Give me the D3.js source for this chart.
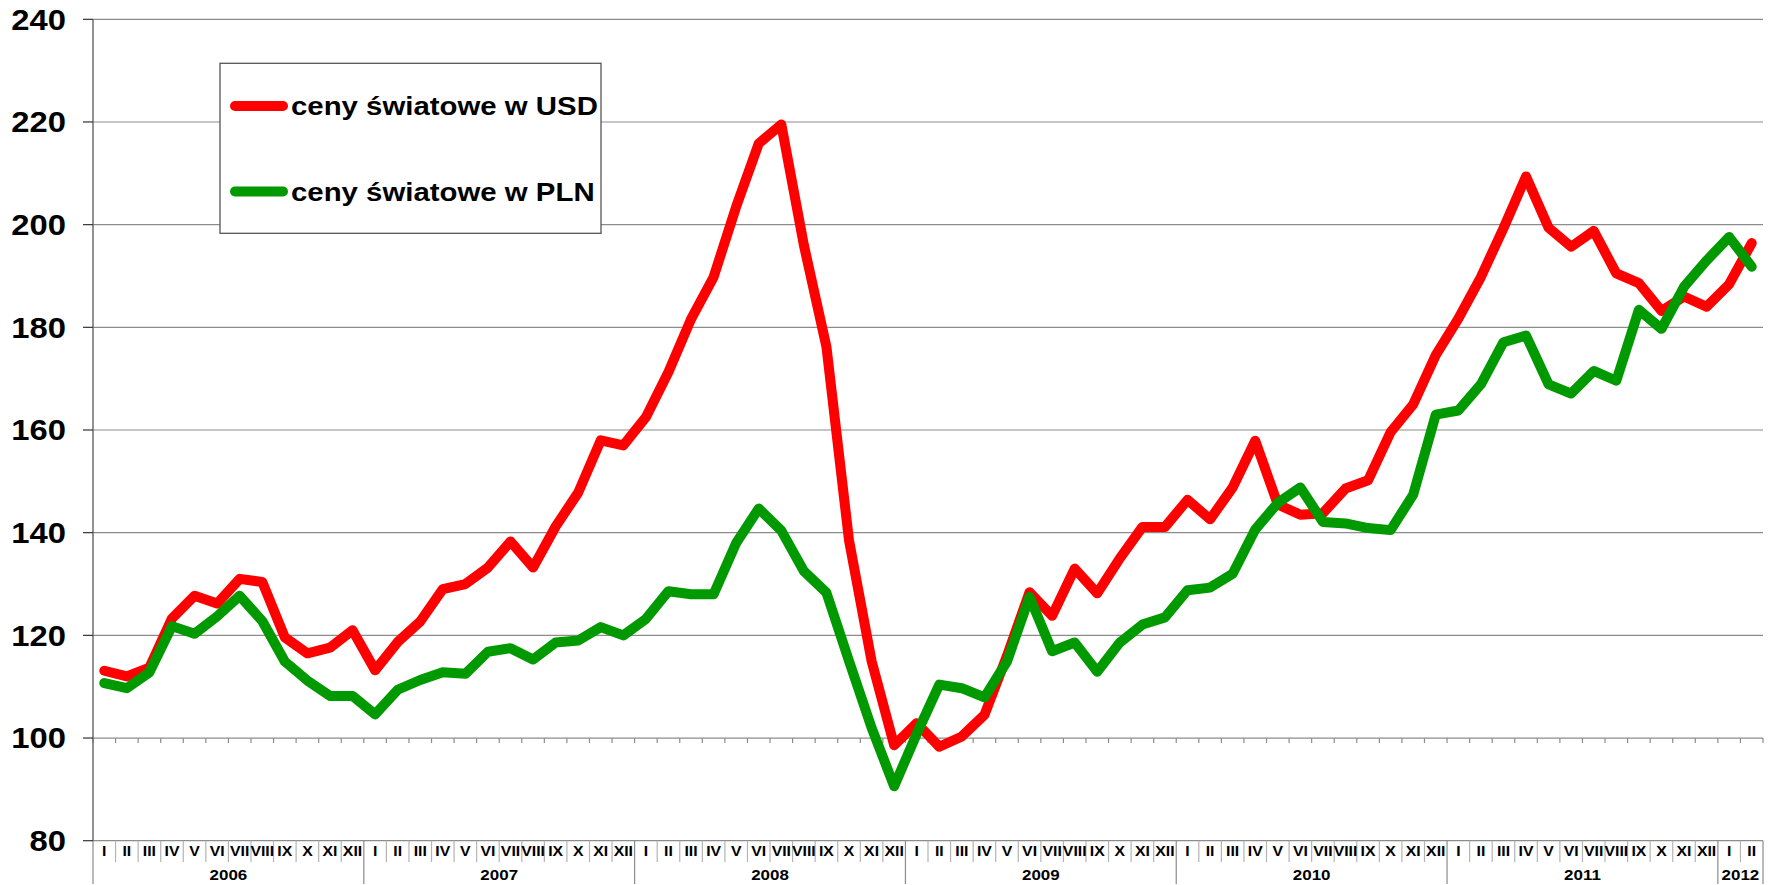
<!DOCTYPE html>
<html>
<head>
<meta charset="utf-8">
<script src="https://cdn.jsdelivr.net/npm/d3@7"></script>
<style>
  html, body { margin: 0; padding: 0; background: #fff; }
  svg { display: block; font-family: Arial, "Liberation Sans", sans-serif; }
</style>
</head>
<body>
<svg id="chart" width="1772" height="885"></svg>
<script>
const width = 1772;
const height = 885;

// month labels (roman) and years
const monthNames = ["I","II","III","IV","V","VI","VII","VIII","IX","X","XI","XII"];
const years = [2006, 2007, 2008, 2009, 2010, 2011, 2012];
const monthsInYear = [12, 12, 12, 12, 12, 12, 2];
const yTicks = [80, 100, 120, 140, 160, 180, 200, 220, 240];

// ceny światowe w USD
const usd = [
  113.1, 112.0, 113.7, 123.3, 127.7, 126.2, 131.0, 130.4, 119.6, 116.5, 117.6, 121.0,
  113.2, 118.7, 122.7, 129.0, 130.0, 133.2, 138.3, 133.2, 141.2, 147.8, 158.0, 157.0,
  162.5, 171.3, 181.6, 189.8, 203.5, 215.8, 219.5, 196.0, 176.2, 138.5, 115.0, 98.6,
  102.9, 98.3, 100.3, 104.5, 116.0, 128.4, 123.8, 133.0, 128.2, 135.0, 141.1, 141.1,
  146.4, 142.6, 148.8, 157.9, 145.5, 143.5, 143.8, 148.6, 150.2, 159.6, 165.0, 174.6,
  181.7, 189.8, 199.3, 209.4, 199.4, 195.7, 198.8, 190.5, 188.6, 183.2, 186.0, 184.0,
  188.4, 196.4
];

// ceny światowe w PLN
const pln = [
  110.7, 109.7, 112.8, 121.8, 120.3, 123.7, 127.7, 122.8, 114.9, 111.2, 108.2, 108.2,
  104.6, 109.4, 111.3, 112.8, 112.5, 116.8, 117.5, 115.3, 118.6, 119.0, 121.6, 120.0,
  123.2, 128.6, 128.0, 128.0, 138.0, 144.7, 140.4, 132.5, 128.3, 115.0, 102.0, 90.6,
  100.8, 110.4, 109.7, 107.9, 114.9, 127.5, 116.9, 118.6, 112.9, 118.6, 122.1, 123.5,
  128.8, 129.3, 132.0, 140.6, 145.8, 148.8, 142.1, 141.8, 140.9, 140.5, 147.4, 163.0,
  163.8, 168.9, 177.1, 178.4, 168.9, 167.1, 171.5, 169.6, 183.4, 179.7, 187.9, 193.0,
  197.6, 191.8
];

const seriesNames = ["ceny światowe w USD", "ceny światowe w PLN"];
const seriesColors = ["#ff0000", "#009900"];

// build month list
let months = [];
years.forEach((yr, yi) => {
  for (let m = 0; m < monthsInYear[yi]; m++) {
    months.push({ key: yr + "-" + m, label: monthNames[m], year: yr });
  }
});

const plotLeft = 93, plotRight = 1763, plotTop = 19.3, plotBottom = 840.7;
const stretch = 1.13; // original text is slightly wide

const x = d3.scaleBand()
  .domain(months.map(d => d.key))
  .range([plotLeft, plotRight])
  .padding(0);
const y = d3.scaleLinear().domain([80, 240]).range([plotBottom, plotTop]);
const cx = i => x(months[i].key) + x.bandwidth() / 2;
const edge = i => plotLeft + i * x.bandwidth();

const svg = d3.select("#chart");

function stretchedText(g, tx, ty, txt, size, anchor) {
  return g.append("text")
    .attr("transform", `translate(${tx},${ty}) scale(${stretch},1)`)
    .attr("text-anchor", anchor)
    .attr("font-size", size)
    .attr("font-weight", "bold")
    .attr("fill", "#000")
    .text(txt);
}

// gridlines
svg.append("g")
  .selectAll("line")
  .data(yTicks.filter(v => v > 80))
  .enter()
  .append("line")
  .attr("x1", plotLeft).attr("x2", plotRight)
  .attr("y1", d => y(d)).attr("y2", d => y(d))
  .attr("stroke", "#8c8c8c")
  .attr("stroke-width", 1.2);

// category axis crossing at 100 with small ticks
svg.append("g")
  .selectAll("line")
  .data(d3.range(months.length + 1))
  .enter()
  .append("line")
  .attr("x1", edge).attr("x2", edge)
  .attr("y1", y(100)).attr("y2", y(100) + 5)
  .attr("stroke", "#8c8c8c")
  .attr("stroke-width", 1.2);

// bottom label grid
svg.append("line")
  .attr("x1", plotLeft).attr("x2", plotRight)
  .attr("y1", plotBottom).attr("y2", plotBottom)
  .attr("stroke", "#8c8c8c").attr("stroke-width", 1.2);

let yearStart = [0];
monthsInYear.forEach((n, i) => yearStart.push(yearStart[i] + n));

svg.append("g")
  .selectAll("line")
  .data(d3.range(months.length + 1))
  .enter()
  .append("line")
  .attr("x1", edge).attr("x2", edge)
  .attr("y1", plotBottom)
  .attr("y2", i => yearStart.includes(i) ? 884 : 862)
  .attr("stroke", i => yearStart.includes(i) ? "#8c8c8c" : "#b4b4b4")
  .attr("stroke-width", 1.2);

// month labels
const monthG = svg.append("g");
months.forEach((m, i) => {
  stretchedText(monthG, cx(i), 856, m.label, 14, "middle");
});

// year labels
const yearG = svg.append("g");
years.forEach((yr, yi) => {
  const x0 = edge(yearStart[yi]);
  const x1 = edge(yearStart[yi + 1]);
  stretchedText(yearG, (x0 + x1) / 2, 880, yr, 15, "middle");
});

// y axis
svg.append("line")
  .attr("x1", plotLeft).attr("x2", plotLeft)
  .attr("y1", plotTop).attr("y2", plotBottom)
  .attr("stroke", "#6e6e6e").attr("stroke-width", 1.5);

const yAxisG = svg.append("g");
yTicks.forEach(v => {
  yAxisG.append("line")
    .attr("x1", plotLeft - 10).attr("x2", plotLeft)
    .attr("y1", y(v)).attr("y2", y(v))
    .attr("stroke", "#333").attr("stroke-width", 1.2);
  stretchedText(yAxisG, 66, y(v) + 10.4, v, 29, "end");
});

// lines
const line = d3.line()
  .x((d, i) => cx(i))
  .y(d => y(d));

[usd, pln].forEach((s, k) => {
  svg.append("path")
    .datum(s)
    .attr("d", line)
    .attr("fill", "none")
    .attr("stroke", seriesColors[k])
    .attr("stroke-width", 10)
    .attr("stroke-linejoin", "round")
    .attr("stroke-linecap", "round");
});

// legend
const legend = svg.append("g");
legend.append("rect")
  .attr("x", 220).attr("y", 63.3)
  .attr("width", 381).attr("height", 170)
  .attr("fill", "#fff")
  .attr("stroke", "#555")
  .attr("stroke-width", 1.3);

const legendY = [106, 191.5];
seriesNames.forEach((name, k) => {
  legend.append("line")
    .attr("x1", 235).attr("x2", 283)
    .attr("y1", legendY[k]).attr("y2", legendY[k])
    .attr("stroke", seriesColors[k])
    .attr("stroke-width", 10)
    .attr("stroke-linecap", "round");
  stretchedText(legend, 291, legendY[k] + 9, name, 26, "start");
});
</script>
</body>
</html>
